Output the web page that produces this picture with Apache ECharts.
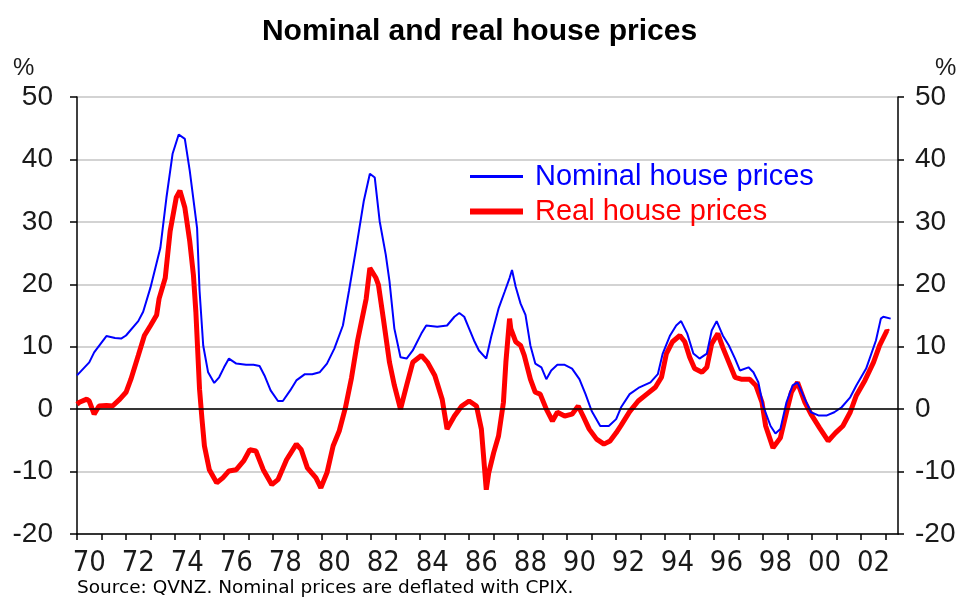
<!DOCTYPE html>
<html>
<head>
<meta charset="utf-8">
<script src="https://cdn.jsdelivr.net/npm/echarts@6/dist/echarts.min.js"></script>
<style>
    html,body{margin:0;padding:0;background:#fff;}
    #chart{width:959px;height:598px;}
</style>
</head>
<body>
<div id="chart"></div>
<script>
// 数据：年份(小数) 与 年变化率 %
var nominal_years=[1970.0,1970.5,1970.7,1971.2,1971.55,1971.8,1972.0,1972.5,1972.7,1973.0,1973.4,1973.65,1973.9,1974.15,1974.4,1974.6,1974.9,1975.0,1975.15,1975.35,1975.6,1975.8,
    1976.0,1976.2,1976.5,1976.9,1977.2,1977.45,1977.65,1977.9,1978.2,1978.4,1978.7,1978.95,1979.3,1979.6,1979.9,1980.2,1980.5,1980.85,1981.1,1981.4,1981.7,1981.95,
    1982.15,1982.35,1982.6,1982.75,1982.95,1983.2,1983.45,1983.7,1984.05,1984.25,1984.7,1985.1,1985.4,1985.6,1985.8,1986.0,1986.2,1986.4,1986.7,1986.9,1987.2,1987.45,
    1987.65,1987.75,1987.9,1988.1,1988.3,1988.5,1988.7,1988.95,1989.15,1989.35,1989.6,1989.9,1990.2,1990.5,1990.75,1991.0,1991.35,1991.7,1992.0,1992.2,1992.55,1992.95,
    1993.4,1993.7,1993.9,1994.2,1994.45,1994.65,1994.9,1995.15,1995.4,1995.7,1995.9,1996.1,1996.35,1996.6,1996.85,1997.05,1997.4,1997.6,1997.8,1998.0,1998.3,1998.5,
    1998.7,1998.95,1999.2,1999.4,1999.7,1999.95,2000.25,2000.6,2000.9,2001.2,2001.55,2001.8,2002.2,2002.6,2002.8,2002.9,2003.2];
var nominal_values=[5.4,7.5,9.1,11.7,11.4,11.3,11.8,14.1,15.6,19.5,25.8,33.9,40.9,44.0,43.3,38.2,29.0,19.0,10.2,5.9,4.2,5.1,
    6.7,8.1,7.3,7.1,7.1,6.9,5.4,3.0,1.3,1.3,3.0,4.6,5.6,5.6,5.9,7.3,9.7,13.4,19.0,26.0,33.3,37.7,
    37.1,30.1,24.7,20.5,12.9,8.3,8.1,9.4,12.1,13.4,13.2,13.4,14.8,15.4,14.8,12.9,11.0,9.4,8.1,11.6,16.1,18.8,
    21.0,22.3,19.6,16.9,15.1,10.2,7.3,6.7,4.8,6.2,7.1,7.1,6.5,4.8,2.4,-0.3,-2.7,-2.7,-1.6,0.3,2.4,3.5,
    4.3,5.6,8.9,11.8,13.4,14.1,12.1,8.9,8.1,8.9,12.6,14.1,11.8,10.2,8.1,6.2,6.7,5.9,4.3,0.5,-2.7,-3.9,
    -3.2,1.1,3.8,4.3,1.6,-0.5,-1.0,-1.0,-0.5,0.3,1.9,3.8,6.5,11.0,14.5,14.8,14.5];

var real_years=[1970.0,1970.1,1970.4,1970.5,1970.7,1970.9,1971.2,1971.45,1971.75,1972.0,1972.2,1972.5,1972.75,1973.0,1973.25,1973.35,1973.6,1973.8,1974.05,1974.2,1974.4,
    1974.6,1974.75,1974.85,1975.0,1975.1,1975.2,1975.4,1975.7,1975.95,1976.2,1976.5,1976.8,1977.05,1977.3,1977.6,1977.95,1978.2,1978.55,1978.95,1979.15,1979.4,1979.75,
    1979.95,1980.2,1980.45,1980.7,1980.95,1981.2,1981.45,1981.8,1981.95,1982.2,1982.3,1982.5,1982.75,1982.95,1983.2,1983.45,1983.7,1984.05,1984.3,1984.6,1984.9,1985.1,
    1985.4,1985.7,1986.0,1986.3,1986.5,1986.7,1986.8,1987.0,1987.2,1987.4,1987.5,1987.65,1987.7,1987.9,1988.1,1988.25,1988.5,1988.7,1988.9,1989.15,1989.4,1989.6,
    1989.9,1990.2,1990.45,1990.65,1990.9,1991.2,1991.5,1991.75,1992.0,1992.2,1992.55,1992.9,1993.25,1993.6,1993.85,1994.05,1994.3,1994.6,1994.8,1995.0,1995.2,1995.5,
    1995.7,1995.9,1996.15,1996.35,1996.6,1996.85,1997.1,1997.45,1997.7,1997.95,1998.1,1998.4,1998.7,1998.95,1999.15,1999.4,1999.7,1999.95,2000.3,2000.65,2000.95,
    2001.25,2001.55,2001.8,2002.15,2002.5,2002.75,2003.05,2003.1];
var real_values=[0.8,1.1,1.6,1.3,-0.8,0.5,0.6,0.5,1.6,2.7,4.8,8.6,11.8,13.4,15.1,17.7,21.0,28.5,33.9,35.0,32.3,
    26.9,21.5,15.6,3.2,-1.6,-5.9,-9.7,-11.8,-11.0,-9.9,-9.7,-8.3,-6.5,-6.7,-9.7,-12.1,-11.3,-8.1,-5.6,-6.5,-9.4,-11.0,
    -12.6,-10.2,-5.9,-3.5,0.2,5.0,11.0,17.7,22.6,21.0,19.9,14.5,7.5,3.8,0.0,3.8,7.5,8.6,7.5,5.4,1.6,-3.2,
    -1.1,0.5,1.3,0.5,-3.2,-12.9,-10.2,-7.0,-4.3,1.1,7.5,14.5,12.9,10.8,10.2,8.6,4.8,2.7,2.4,0.0,-1.9,-0.5,
    -1.1,-0.8,0.5,-1.1,-3.2,-4.8,-5.6,-5.1,-3.8,-2.6,-0.4,1.3,2.4,3.5,5.1,8.9,10.8,11.8,10.8,8.3,6.5,5.9,
    6.7,10.5,12.1,9.9,7.5,5.1,4.8,4.8,3.8,1.1,-2.7,-6.2,-4.6,-0.5,2.7,4.3,1.1,-0.8,-3.0,-5.1,-3.8,
    -2.7,-0.5,2.2,4.6,7.5,10.2,12.6,12.4];

var year_labels=['70','72','74','76','78','80','82','84','86','88','90','92','94','96','98','00','02'];
var year_ticks=[];
for(var y=1970;y<=2003;y++){ year_ticks.push(y); }

function to_pairs(xs,vs) {
    return xs.map(function (x,i) { return [x,vs[i]]; });
}

// 标签放在每两年的年中
var label_pos=year_labels.map(function (s,i) { return 1970+2*i+0.5; });
function year_text(v) {
    var i=label_pos.indexOf(v);
    return i>=0?year_labels[i]:'';
}

var txt='#1a1a1a';
var sans="'Liberation Sans', Arial, sans-serif";
var narrow="'DejaVu Sans Condensed', sans-serif";

var chart=echarts.init(document.getElementById('chart'),null,{renderer:'canvas'});
var option={
    animation:false,
    backgroundColor:'#fff',
    title:{
        text:'Nominal and real house prices',
        left:'center',
        top:12,
        textStyle:{color:'#000',fontSize:30,fontWeight:'bold',fontFamily:sans}
    },
    grid:{left:77,right:61,top:97,bottom:64},
    legend:{
        orient:'vertical',
        left:465,
        top:157,
        itemWidth:53,
        itemHeight:14,
        itemGap:6,
        textStyle:{fontSize:29,lineHeight:29,fontFamily:sans,padding:[0,0,0,7]},
        data:[
            {name:'Nominal house prices',icon:'path://M0,0H53V3H0Z',textStyle:{color:'#0000ff'}},
            {name:'Real house prices',icon:'path://M0,0H53V6H0Z',textStyle:{color:'#ff0000'}}
        ]
    },
    xAxis:{
        type:'value',
        min:1970,
        max:2003.5,
        axisLine:{show:true,onZero:false,lineStyle:{color:'#000',width:1.5}},
        axisTick:{show:true,length:6,lineStyle:{color:'#000',width:1.5},customValues:year_ticks},
        axisLabel:{
            customValues:label_pos,
            formatter:year_text,
            margin:15,
            color:txt,
            fontSize:29,
            fontFamily:narrow
        },
        splitLine:{show:false}
    },
    yAxis:[
        {
            type:'value',
            position:'left',
            min:-20,
            max:50,
            interval:10,
            axisLine:{show:true,lineStyle:{color:'#000',width:1.5}},
            axisTick:{show:true,length:7,lineStyle:{color:'#000',width:1.5}},
            axisLabel:{margin:24,color:txt,fontSize:28,fontFamily:sans},
            splitLine:{show:true,lineStyle:{color:'#c4c4c4',width:1.5}}
        },
        {
            type:'value',
            position:'right',
            min:-20,
            max:50,
            interval:10,
            axisLine:{show:true,lineStyle:{color:'#000',width:1.5}},
            axisTick:{show:true,length:6,lineStyle:{color:'#000',width:1.5}},
            axisLabel:{margin:17,color:txt,fontSize:28,fontFamily:sans},
            splitLine:{show:false}
        }
    ],
    series:[
        {
            name:'Real house prices',
            type:'line',
            data:to_pairs(real_years,real_values),
            showSymbol:false,
            symbol:'none',
            color:'#ff0000',
            lineStyle:{color:'#ff0000',width:5},
            z:2
        },
        {
            name:'Nominal house prices',
            type:'line',
            data:to_pairs(nominal_years,nominal_values),
            showSymbol:false,
            symbol:'none',
            color:'#0000ff',
            lineStyle:{color:'#0000ff',width:2},
            z:3,
            markLine:{
                silent:true,
                symbol:'none',
                label:{show:false},
                lineStyle:{color:'#000',width:1.5,type:'solid'},
                data:[{yAxis:0}]
            }
        }
    ],
    graphic:[
        {type:'text',left:13,top:56,style:{text:'%',fill:txt,font:'24px '+sans}},
        {type:'text',left:935,top:56,style:{text:'%',fill:txt,font:'24px '+sans}},
        {type:'text',left:77,top:579,style:{text:'Source: QVNZ. Nominal prices are deflated with CPIX.',fill:'#000',font:"18.5px 'DejaVu Sans', sans-serif"}}
    ]
};
chart.setOption(option);
</script>
</body>
</html>
